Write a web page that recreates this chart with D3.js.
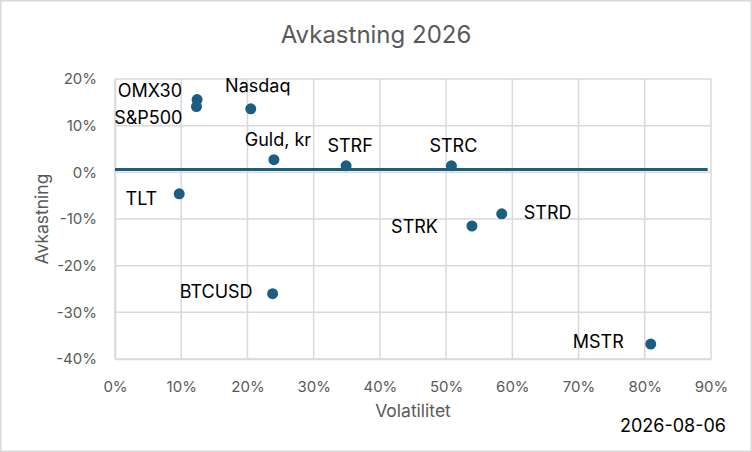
<!DOCTYPE html>
<html>
<head>
<meta charset="utf-8">
<script src="https://cdn.jsdelivr.net/npm/d3@7"></script>
<style>
  body { margin: 0; background: #fff; }
  text { font-family: Inter, "Noto Sans", sans-serif; }
</style>
</head>
<body>
<div id="content"></div>
<script>
// Data.
var names = ['OMX30', 'S&P500', 'Nasdaq', 'Guld, kr', 'TLT', 'STRF', 'STRC', 'STRD', 'STRK', 'BTCUSD', 'MSTR'];
var volatility = [0.124, 0.123, 0.205, 0.240, 0.097, 0.349, 0.508, 0.584, 0.539, 0.238, 0.809];
var returns = [0.156, 0.141, 0.136, 0.027, -0.046, 0.014, 0.014, -0.089, -0.115, -0.260, -0.368];
var refLevel = 0.006;
var refSpan = [0, 0.895];
var xTicks = [0, 0.1, 0.2, 0.3, 0.4, 0.5, 0.6, 0.7, 0.8, 0.9];
var yTicks = [0.2, 0.1, 0, -0.1, -0.2, -0.3, -0.4];
var dateLabel = '2026-08-06';

// Label placement: [dx, dy, anchor] relative to each dot.
var labelPlace = [
  [-15, -3, 'end'], [-14, 17, 'end'], [7, -17, 'middle'], [4, -14, 'middle'],
  [-22, 11, 'end'], [4, -14, 'middle'], [2, -14, 'middle'], [22, 5, 'start'],
  [-34, 7, 'end'], [-20, 4, 'end'], [-27, 4, 'end']
];

var W = 752, H = 452;
var color = '#1b5e82';
var grey = '#595959';

var svg = d3.select('#content').append('svg')
    .attr('width', W).attr('height', H);

// Outer frame.
svg.append('rect')
    .attr('x', 0.75).attr('y', 0.75)
    .attr('width', W - 1.5).attr('height', H - 1.5)
    .attr('fill', '#fff').attr('stroke', '#d9d9d9').attr('stroke-width', 1.5);

var x = d3.scaleLinear().domain([0, 0.9]).range([115, 711]);
var y = d3.scaleLinear().domain([-0.4, 0.2]).range([359, 79]);

// Gridlines.
svg.append('g').selectAll('line')
    .data(xTicks).enter().append('line')
    .attr('x1', function(d) { return x(d); }).attr('x2', function(d) { return x(d); })
    .attr('y1', y(0.2)).attr('y2', y(-0.4))
    .attr('stroke', '#d9d9d9').attr('stroke-width', 1.5);
svg.append('g').selectAll('line')
    .data(yTicks).enter().append('line')
    .attr('x1', x(0)).attr('x2', x(0.9))
    .attr('y1', function(d) { return y(d); }).attr('y2', function(d) { return y(d); })
    .attr('stroke', '#d9d9d9').attr('stroke-width', 1.5);

// Axes (labels only, Excel style). Plain hyphen for negatives.
var fmt = function(d) { return d3.format('.0%')(d).replace('\u2212', '-'); };
var xAxis = svg.append('g')
    .attr('transform', 'translate(0,' + y(-0.4) + ')')
    .call(d3.axisBottom(x).tickValues(xTicks).tickFormat(fmt).tickSize(0).tickPadding(22));
var yAxis = svg.append('g')
    .attr('transform', 'translate(' + x(0) + ',0)')
    .call(d3.axisLeft(y).tickValues(yTicks).tickFormat(fmt).tickSize(0).tickPadding(18));
[xAxis, yAxis].forEach(function(a) {
  a.select('.domain').attr('stroke', '#d9d9d9').attr('stroke-width', 1.5);
  a.selectAll('text').attr('fill', grey).attr('font-size', 15)
      .attr('font-family', 'Inter, sans-serif');
});

// Reference line.
svg.append('line')
    .attr('x1', x(refSpan[0])).attr('x2', x(refSpan[1]))
    .attr('y1', y(refLevel)).attr('y2', y(refLevel))
    .attr('stroke', color).attr('stroke-width', 3);

// Dots.
svg.append('g').selectAll('circle')
    .data(names).enter().append('circle')
    .attr('cx', function(d, i) { return x(volatility[i]); })
    .attr('cy', function(d, i) { return y(returns[i]); })
    .attr('r', 5.5)
    .attr('fill', color);

// Data labels.
svg.append('g').selectAll('text')
    .data(names).enter().append('text')
    .attr('x', function(d, i) { return x(volatility[i]) + labelPlace[i][0]; })
    .attr('y', function(d, i) { return y(returns[i]) + labelPlace[i][1]; })
    .attr('text-anchor', function(d, i) { return labelPlace[i][2]; })
    .attr('font-size', 18)
    .attr('fill', '#000')
    .text(function(d) { return d; });

// Titles.
svg.append('text')
    .attr('x', 376).attr('y', 43)
    .attr('text-anchor', 'middle')
    .attr('font-size', 24).attr('fill', grey)
    .text('Avkastning 2026');

svg.append('text')
    .attr('transform', 'translate(48,' + (y(-0.1)) + ') rotate(-90)')
    .attr('text-anchor', 'middle')
    .attr('font-size', 17.5).attr('fill', grey)
    .text('Avkastning');

svg.append('text')
    .attr('x', (x(0) + x(0.9)) / 2).attr('y', 417)
    .attr('text-anchor', 'middle')
    .attr('font-size', 17.5).attr('fill', grey)
    .text('Volatilitet');

svg.append('text')
    .attr('x', 726).attr('y', 432)
    .attr('text-anchor', 'end')
    .attr('font-size', 18).attr('fill', '#000')
    .text(dateLabel);
</script>
</body>
</html>
